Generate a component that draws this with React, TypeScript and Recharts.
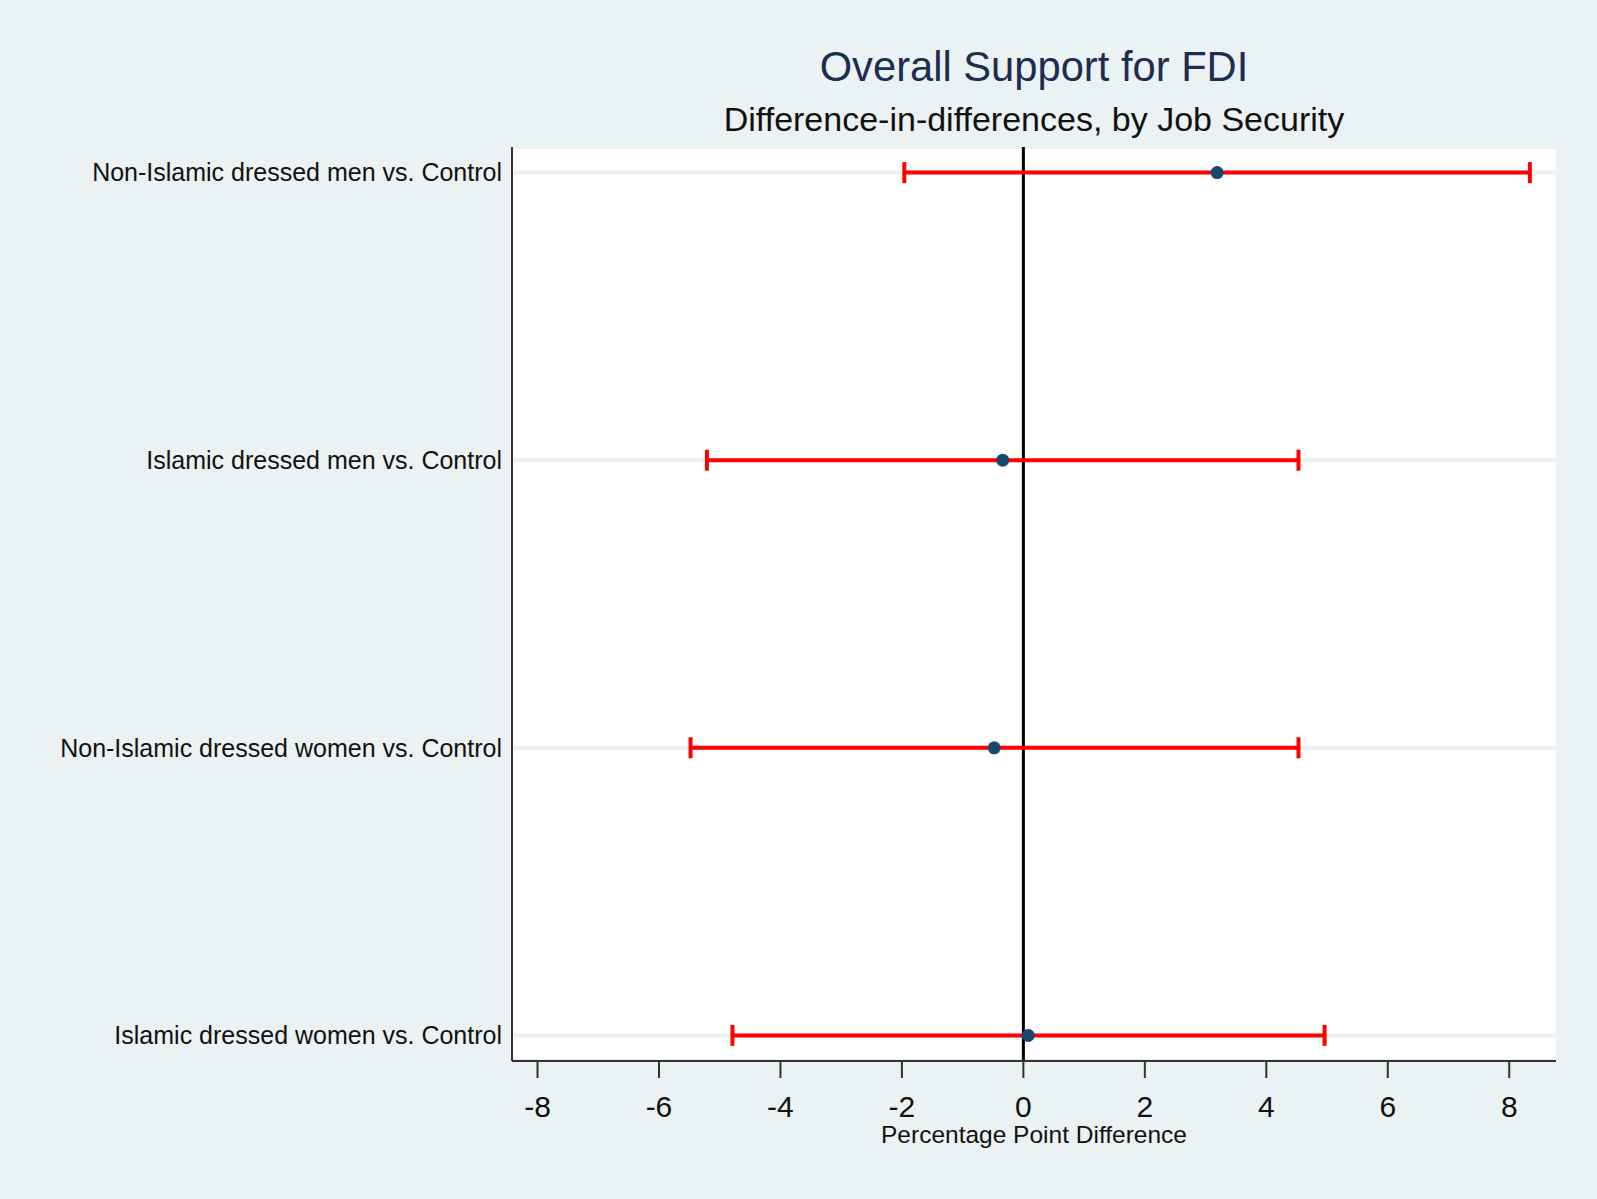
import {
  CartesianGrid,
  ErrorBar,
  ReferenceLine,
  Scatter,
  ScatterChart,
  XAxis,
  YAxis,
} from 'recharts'

const categories = [
  'Non-Islamic dressed men vs. Control',
  'Islamic dressed men vs. Control',
  'Non-Islamic dressed women vs. Control',
  'Islamic dressed women vs. Control',
]
const estimates = [3.19, -0.34, -0.48, 0.08]
const lowerBounds = [-1.96, -5.21, -5.48, -4.79]
const upperBounds = [8.34, 4.53, 4.53, 4.96]
const xTicks = [-8, -6, -4, -2, 0, 2, 4, 6, 8]
const rowTicks = [1, 2, 3, 4]

const data = categories.map((name, i) => ({
  name,
  row: i + 1,
  est: estimates[i],
  ci: [estimates[i] - lowerBounds[i], upperBounds[i] - estimates[i]],
}))

const FONT = '"Liberation Sans", Arial, sans-serif'
const BG = '#eaf2f3'

const Dot = (props: any) => {
  const { cx, cy } = props
  return <circle cx={cx} cy={cy} r={6.5} fill="#1a476f" />
}

const App = () => {
  return (
    <div
      style={{
        position: 'absolute',
        left: 0,
        top: 0,
        width: 1597,
        height: 1199,
        background: BG,
        fontFamily: FONT,
      }}
    >
      <ScatterChart
        width={1597}
        height={1199}
        margin={{ top: 147, right: 41, bottom: 0, left: 0 }}
      >
        <CartesianGrid vertical={false} fill="#ffffff" stroke={BG} strokeWidth={4} />
        <XAxis
          type="number"
          dataKey="est"
          domain={[-8.42, 8.77]}
          ticks={xTicks}
          allowDataOverflow
          height={138}
          tickSize={17}
          tickMargin={18}
          interval={0}
          tick={{ fontSize: 30, fill: '#111', fontFamily: FONT }}
          axisLine={{ stroke: '#333', strokeWidth: 2 }}
          tickLine={{ stroke: '#333', strokeWidth: 2 }}
        />
        <YAxis
          type="number"
          dataKey="row"
          reversed
          domain={[0.911, 4.089]}
          ticks={rowTicks}
          allowDataOverflow
          interval={0}
          width={512}
          tickSize={0}
          tickMargin={10}
          tickLine={false}
          tickFormatter={(v) => categories[v - 1]}
          tick={{ fontSize: 25, fill: '#111', fontFamily: FONT }}
          axisLine={{ stroke: '#333', strokeWidth: 2 }}
        />
        <ReferenceLine x={0} stroke="#000" strokeWidth={3} />
        <Scatter data={data} shape={Dot} isAnimationActive={false}>
          <ErrorBar
            dataKey="ci"
            direction="x"
            width={10.5}
            stroke="#ff0000"
            strokeWidth={4}
            isAnimationActive={false}
          />
        </Scatter>
      </ScatterChart>
      <div
        style={{
          position: 'absolute',
          left: 512,
          width: 1044,
          top: 46,
          textAlign: 'center',
          fontSize: 41.7,
          lineHeight: '41px',
          color: '#1e2d4f',
        }}
      >
        Overall Support for FDI
      </div>
      <div
        style={{
          position: 'absolute',
          left: 512,
          width: 1044,
          top: 102,
          textAlign: 'center',
          fontSize: 34,
          lineHeight: '34px',
          color: '#111',
        }}
      >
        Difference-in-differences, by Job Security
      </div>
      <div
        style={{
          position: 'absolute',
          left: 512,
          width: 1044,
          top: 1123,
          textAlign: 'center',
          fontSize: 24.5,
          lineHeight: '24px',
          color: '#111',
        }}
      >
        Percentage Point Difference
      </div>
    </div>
  )
}

export default App
